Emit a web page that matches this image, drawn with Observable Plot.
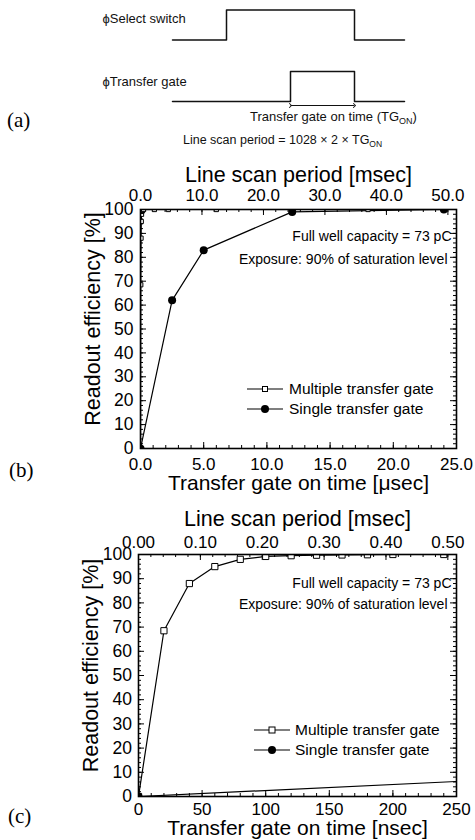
<!DOCTYPE html>
<html><head><meta charset="utf-8">
<script src="https://cdn.jsdelivr.net/npm/d3@7"></script>
<script src="https://cdn.jsdelivr.net/npm/@observablehq/plot@0.6"></script>
<style>
body{margin:0;background:#fff;}
#page{position:relative;width:475px;height:840px;overflow:hidden;background:#fff;}
.lab{position:absolute;font-family:"Liberation Serif","Times New Roman",serif;font-size:21px;line-height:21px;color:#000;}
</style></head><body><div id="page"></div>
<script>
// ---------- data ----------
// (a) timing diagram (arbitrary time units), step-after waveforms
const selectT = [0, 54, 182, 232];
const selectLevel = [0, 1, 0, 0];
const gateT = [0, 118, 182, 232];
const gateLevel = [0, 1, 0, 0];
const tgOn = [118, 182];
const selectLabel = "ϕSelect switch";
const gateLabel = "ϕTransfer gate";

// readout efficiency vs transfer gate on time (nsec)
const singleTgNs = [0, 2500, 5000, 12000, 24000];
const singleEff  = [0, 62, 83, 99, 100];
const multiTgNs  = [0, 20, 40, 60, 80, 100, 120, 140, 160, 180, 200, 240, 1100, 2200, 6000, 18000];
const multiEff   = [0, 68.5, 88, 95, 98, 99.2, 99.5, 99.7, 99.8, 99.9, 100, 100, 100, 100, 100, 100];
const lineFactor = 1028 * 2; // line scan period = 1028 x 2 x TG_ON

const yMajor = [0, 10, 20, 30, 40, 50, 60, 70, 80, 90, 100];
const yMinor = d3.range(0, 101, 2);
const bXMajor = [0, 5, 10, 15, 20, 25];
const bXMinor = d3.range(0, 26, 1);
const bTopMajor = [0, 10, 20, 30, 40, 50];
const bTopMinor = d3.range(0, 52, 2);
const cXMajor = [0, 50, 100, 150, 200, 250];
const cXMinor = d3.range(0, 251, 10);
const cTopMajor = [0, 0.1, 0.2, 0.3, 0.4, 0.5];
const cTopMinor = d3.range(0, 0.52, 0.02);

// ---------- layout ----------
const W = 475;
const FONT = '"Liberation Sans", Arial, Helvetica, sans-serif';
const page = document.getElementById("page");
function place(el, top) {
  el.style.position = "absolute"; el.style.left = "0px"; el.style.top = top + "px";
  page.appendChild(el);
}
function label(txt, left, top) {
  const d = document.createElement("div"); d.className = "lab"; d.textContent = txt;
  d.style.left = left + "px"; d.style.top = top + "px"; page.appendChild(d);
}
const baseStyle = {background: "transparent", overflow: "visible", fontFamily: FONT, color: "#000"};

// ---------- (a) ----------
const selRows = selectT.map((t, i) => ({t, level: selectLevel[i]}));
const gateRows = gateT.map((t, i) => ({t, level: gateLevel[i]}));
const a1 = Plot.plot({
  width: W, height: 50, marginTop: 9.5, marginBottom: 10.5, marginLeft: 172, marginRight: 71,
  x: {domain: [0, 232], axis: null}, y: {domain: [0, 1], axis: null},
  style: baseStyle,
  marks: [
    Plot.line(selRows, {x: "t", y: "level", curve: "step-after", stroke: "#111", strokeWidth: 1.5}),
    Plot.text([selectLabel], {frameAnchor: "top-left", dx: -70, dy: 12.5, textAnchor: "start", lineAnchor: "bottom", fontSize: 13, fill: "#111"})
  ]
});
place(a1, 0);

const a2 = Plot.plot({
  width: W, height: 100, marginTop: 21, marginBottom: 49, marginLeft: 172, marginRight: 71,
  x: {domain: [0, 232], axis: null}, y: {domain: [0, 1], axis: null},
  style: baseStyle,
  marks: [
    Plot.line(gateRows, {x: "t", y: "level", curve: "step-after", stroke: "#111", strokeWidth: 1.5}),
    Plot.link([{t1: tgOn[0], t2: tgOn[1], level: 0}], {x1: "t1", x2: "t2", y1: "level", y2: "level", dy: 4, stroke: "#111", strokeWidth: 1, markerStart: "arrow", markerEnd: "arrow"}),
    Plot.text([gateLabel], {frameAnchor: "top-left", dx: -70, dy: 14, textAnchor: "start", lineAnchor: "bottom", fontSize: 13, fill: "#111"})
  ]
});
{
  const g = d3.select(a2).append("g").attr("font-family", FONT).attr("fill", "#111").attr("font-size", 13).attr("text-anchor", "start");
  const t1 = g.append("text").attr("x", 250).attr("y", 71);
  t1.append("tspan").text("Transfer gate on time (TG");
  t1.append("tspan").attr("font-size", 9).attr("dy", 3).text("ON");
  t1.append("tspan").attr("dy", -3).text(")");
  const t2 = g.append("text").attr("x", 183).attr("y", 94).attr("font-size", 12.5);
  t2.append("tspan").text("Line scan period = 1028 × 2 × TG");
  t2.append("tspan").attr("font-size", 8.5).attr("dy", 3).text("ON");
}
place(a2, 50);

// ---------- efficiency panels ----------
function effPanel(o) {
  const fw = W - o.ml - o.mr, fh = o.height - o.mt - o.mb;
  const X = ns => ns * o.perNs;
  const msecToX = m => X(m * 1e6 / lineFactor);
  const single = singleTgNs.map((t, i) => ({x: X(t), y: singleEff[i]}));
  const multi = multiTgNs.map((t, i) => ({x: X(t), y: multiEff[i]}));
  const plot = Plot.plot({
    width: W, height: o.height, marginTop: o.mt, marginBottom: o.mb, marginLeft: o.ml, marginRight: o.mr,
    x: {domain: o.xDomain, axis: null}, y: {domain: [0, 100], axis: null},
    style: baseStyle,
    marks: [
      Plot.tickX(o.xMinor, {x: d => d, insetTop: fh - 3, stroke: "#000"}),
      Plot.tickX(o.xMajor, {x: d => d, insetTop: fh - 6, stroke: "#000"}),
      Plot.tickX(o.topMinor, {x: d => msecToX(d), insetBottom: fh - 3, stroke: "#000"}),
      Plot.tickX(o.topMajor, {x: d => msecToX(d), insetBottom: fh - 6, stroke: "#000"}),
      Plot.tickY(yMinor, {y: d => d, insetRight: fw - 3, stroke: "#000"}),
      Plot.tickY(yMajor, {y: d => d, insetRight: fw - 6, stroke: "#000"}),
      Plot.tickY(yMinor, {y: d => d, insetLeft: fw - 3, stroke: "#000"}),
      Plot.tickY(yMajor, {y: d => d, insetLeft: fw - 6, stroke: "#000"}),
      Plot.line(multi, {x: "x", y: "y", stroke: "#000", strokeWidth: 1.2, clip: true}),
      Plot.line(single, {x: "x", y: "y", stroke: "#000", strokeWidth: 1.2, clip: true}),
      Plot.dot(multi, {x: "x", y: "y", symbol: "square", r: o.sqR, fill: "#fff", stroke: "#000", strokeWidth: 1, clip: true}),
      Plot.dot(single, {x: "x", y: "y", r: 4, fill: "#000", stroke: "none", clip: true}),
      Plot.frame({stroke: "#000", strokeWidth: 1.6}),
      // tick labels
      Plot.text(o.xMajor, {x: d => d, text: o.fmtBottom, frameAnchor: "bottom", dy: o.bottomTickDy, textAnchor: "middle", lineAnchor: "bottom", fontSize: 17, fill: "#000"}),
      Plot.text(o.topMajor, {x: d => msecToX(d), text: o.fmtTop, frameAnchor: "top", dy: o.topTickDy, textAnchor: "middle", lineAnchor: "bottom", fontSize: 17, fill: "#000"}),
      Plot.text(yMajor, {y: d => d, text: d => String(d), frameAnchor: "left", dx: o.yTickDx, textAnchor: "end", lineAnchor: "middle", fontSize: 17.5, fill: "#000"}),
      // axis titles
      Plot.text(["Line scan period [msec]"], {frameAnchor: "top", dy: o.topTitleDy, textAnchor: "middle", lineAnchor: "bottom", fontSize: 21.5, fill: "#000"}),
      Plot.text([o.bottomTitle], {frameAnchor: "bottom", dy: o.bottomTitleDy, textAnchor: "middle", lineAnchor: "bottom", fontSize: 21, fill: "#000"}),
      Plot.text(["Readout efficiency [%]"], {frameAnchor: "left", dx: o.yTitleDx, dy: -10, rotate: -90, textAnchor: "middle", lineAnchor: "middle", fontSize: 21.5, fill: "#000"}),
      // annotations
      Plot.text(["Full well capacity = 73 pC"], {frameAnchor: "top-right", dx: -5, dy: o.note1Dy, textAnchor: "end", lineAnchor: "bottom", fontSize: 14, fill: "#000"}),
      Plot.text(["Exposure: 90% of saturation level"], {frameAnchor: "top-right", dx: -9, dy: o.note2Dy, textAnchor: "end", lineAnchor: "bottom", fontSize: 14, fill: "#000"})
    ]
  });
  // legend
  const g = d3.select(plot).append("g").attr("font-family", FONT).attr("font-size", 15.5).attr("fill", "#000").attr("text-anchor", "start");
  const L = o.legend;
  [["Multiple transfer gate", "sq", L.y1], ["Single transfer gate", "dot", L.y2]].forEach(([name, kind, y]) => {
    g.append("line").attr("x1", L.x0).attr("x2", L.x1).attr("y1", y).attr("y2", y).attr("stroke", "#000").attr("stroke-width", 1.2);
    const xm = (L.x0 + L.x1) / 2;
    if (kind === "sq") g.append("rect").attr("x", xm - L.sq / 2).attr("y", y - L.sq / 2).attr("width", L.sq).attr("height", L.sq).attr("fill", "#fff").attr("stroke", "#000");
    else g.append("circle").attr("cx", xm).attr("cy", y).attr("r", 4).attr("fill", "#000");
    g.append("text").attr("x", L.tx).attr("y", y + 5).text(name);
  });
  return plot;
}

const pb = effPanel({
  height: 345, mt: 59, mb: 47, ml: 140, mr: 19,
  xDomain: [0, 25], perNs: 1 / 1000, sqR: 2.4,
  xMajor: bXMajor, xMinor: bXMinor, topMajor: bTopMajor, topMinor: bTopMinor,
  fmtBottom: d => d.toFixed(1), fmtTop: d => d.toFixed(1),
  bottomTitle: "Transfer gate on time [μsec]",
  bottomTickDy: 21.5, topTickDy: -9, yTickDx: -7, topTitleDy: -28, bottomTitleDy: 41, yTitleDx: -47.5,
  note1Dy: 31.7, note2Dy: 54,
  legend: {x0: 247, x1: 283, tx: 289, y1: 389 - 150, y2: 409 - 150, sq: 5}
});
place(pb, 150);

const pc = effPanel({
  height: 345, mt: 59, mb: 44, ml: 138, mr: 19,
  xDomain: [0, 250], perNs: 1, sqR: 3.5,
  xMajor: cXMajor, xMinor: cXMinor, topMajor: cTopMajor, topMinor: cTopMinor,
  fmtBottom: d => String(d), fmtTop: d => d.toFixed(2),
  bottomTitle: "Transfer gate on time [nsec]",
  bottomTickDy: 18.5, topTickDy: -7, yTickDx: -6.5, topTitleDy: -29, bottomTitleDy: 38, yTitleDx: -47.5,
  note1Dy: 33.7, note2Dy: 54,
  legend: {x0: 254, x1: 290, tx: 295, y1: 730 - 495, y2: 750 - 495, sq: 6}
});
place(pc, 495);

label("(a)", 7, 110);
label("(b)", 9, 460);
label("(c)", 8, 806);
</script>
</body></html>
